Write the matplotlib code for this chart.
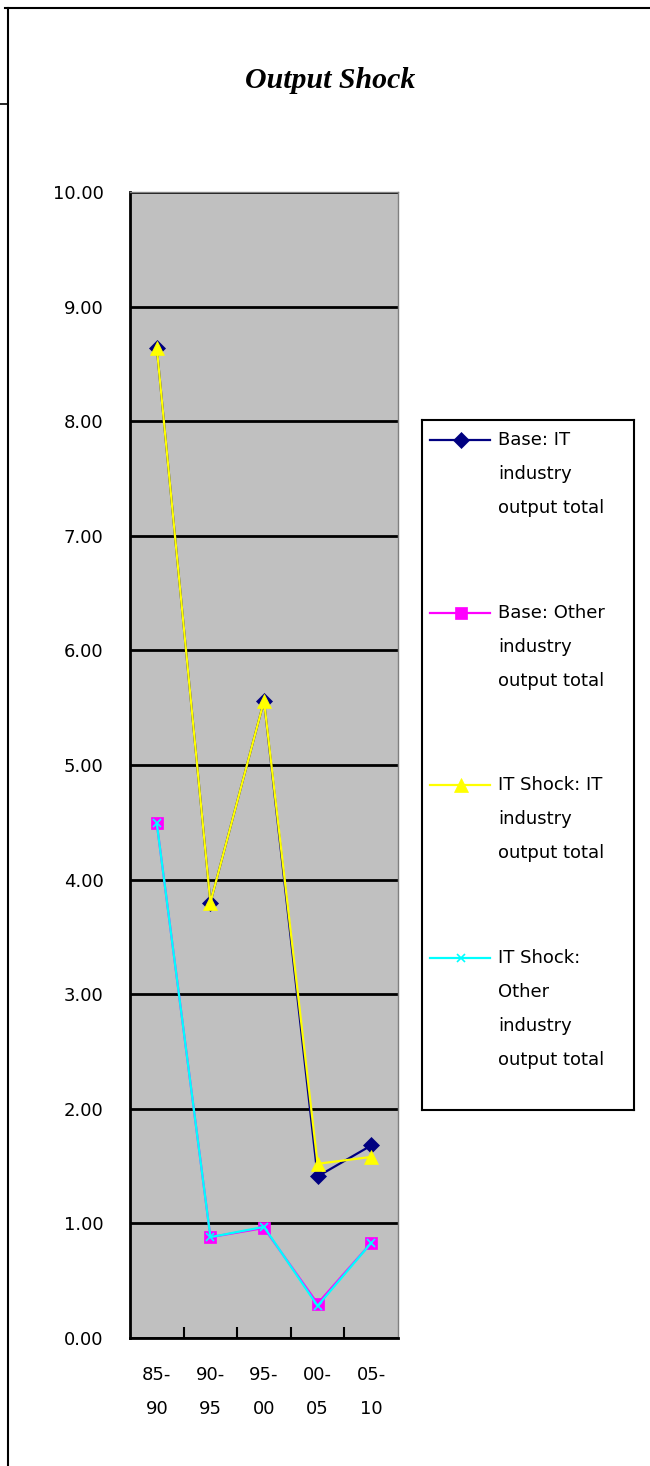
import matplotlib
matplotlib.use('Agg')
import matplotlib.pyplot as plt
from matplotlib.lines import Line2D

periods = ["85-\n90", "90-\n95", "95-\n00", "00-\n05", "05-\n10"]
base_it = [8.64, 3.80, 5.56, 1.41, 1.68]
base_other = [4.49, 0.88, 0.96, 0.30, 0.83]
shock_it = [8.64, 3.80, 5.56, 1.52, 1.58]
shock_other = [4.49, 0.88, 0.97, 0.28, 0.83]
yticks = [0, 1, 2, 3, 4, 5, 6, 7, 8, 9, 10]

series = [
    (base_it, "#000080", "D", 8, ["Base: IT", "industry", "output total"]),
    (base_other, "#FF00FF", "s", 8, ["Base: Other", "industry", "output total"]),
    (shock_it, "#FFFF00", "^", 10, ["IT Shock: IT", "industry", "output total"]),
    (shock_other, "#00FFFF", "x", 6, ["IT Shock:", "Other", "industry", "output total"]),
]

plt.rcParams['font.family'] = ['DejaVu Sans']
fig = plt.figure(figsize=(6.5, 14.66), dpi=100)
ax = fig.add_axes([130/650, 1-1338/1466, 268/650, 1146/1466])
ax.set_facecolor("#C0C0C0")

x = list(range(len(periods)))
for vals, col, mk, ms, lab in series:
    ax.plot(x, vals, color=col, marker=mk, markersize=ms, lw=1.6,
            markeredgewidth=1.2 if mk == "x" else 0.5, markeredgecolor=col)

ax.set_xlim(-0.5, 4.5)
ax.set_ylim(0, 10)
ax.set_yticks(yticks)
ax.set_yticklabels([f"{v:.2f}" for v in yticks], fontsize=13)
ax.set_xticks(x)
ax.set_xticklabels(periods, fontsize=13, linespacing=2.15)
ax.set_xticks([0.5, 1.5, 2.5, 3.5], minor=True)
ax.tick_params(axis='x', which='major', length=0, pad=20)
ax.tick_params(axis='x', which='minor', direction='in', length=8, width=1.5)
ax.tick_params(axis='y', length=0, pad=19)
ax.yaxis.grid(True, color='black', lw=2)
ax.set_axisbelow(True)
for s in ['left', 'bottom']:
    ax.spines[s].set_linewidth(2)
    ax.spines[s].set_color('black')
for s in ['top', 'right']:
    ax.spines[s].set_linewidth(1)
    ax.spines[s].set_color('#808080')

fig.text(330/650, 1-80/1466, "Output Shock", ha='center', va='center',
         fontsize=21.5, fontweight='bold', fontstyle='italic', family='Liberation Serif')

# legend box
lax = fig.add_axes([422/650, 1-1110/1466, 212/650, 690/1466])
lax.set_xlim(0, 212)
lax.set_ylim(690, 0)
lax.set_xticks([])
lax.set_yticks([])
lax.set_facecolor('white')
for s in lax.spines.values():
    s.set_linewidth(1.5)
    s.set_color('black')
starts = [20, 193, 365, 538]
for (vals, col, mk, ms, lab), y0 in zip(series, starts):
    lax.plot([8, 68], [y0, y0], color=col, lw=1.6)
    lax.plot([39], [y0], color=col, marker=mk, markersize=ms,
             markeredgewidth=1.2 if mk == "x" else 0.5, markeredgecolor=col)
    for i, t in enumerate(lab):
        lax.text(76, y0 + i*34, t, va='center', ha='left', fontsize=13)

# page border
fig.add_artist(Line2D([5/650, 1], [1-8/1466, 1-8/1466], color='black', lw=1.5, transform=fig.transFigure))
fig.add_artist(Line2D([8/650, 8/650], [0, 1-8/1466], color='black', lw=1.5, transform=fig.transFigure))
fig.add_artist(Line2D([0, 8/650], [1-104/1466, 1-104/1466], color='black', lw=1.2, transform=fig.transFigure))

fig.savefig("out.png", dpi=100)
